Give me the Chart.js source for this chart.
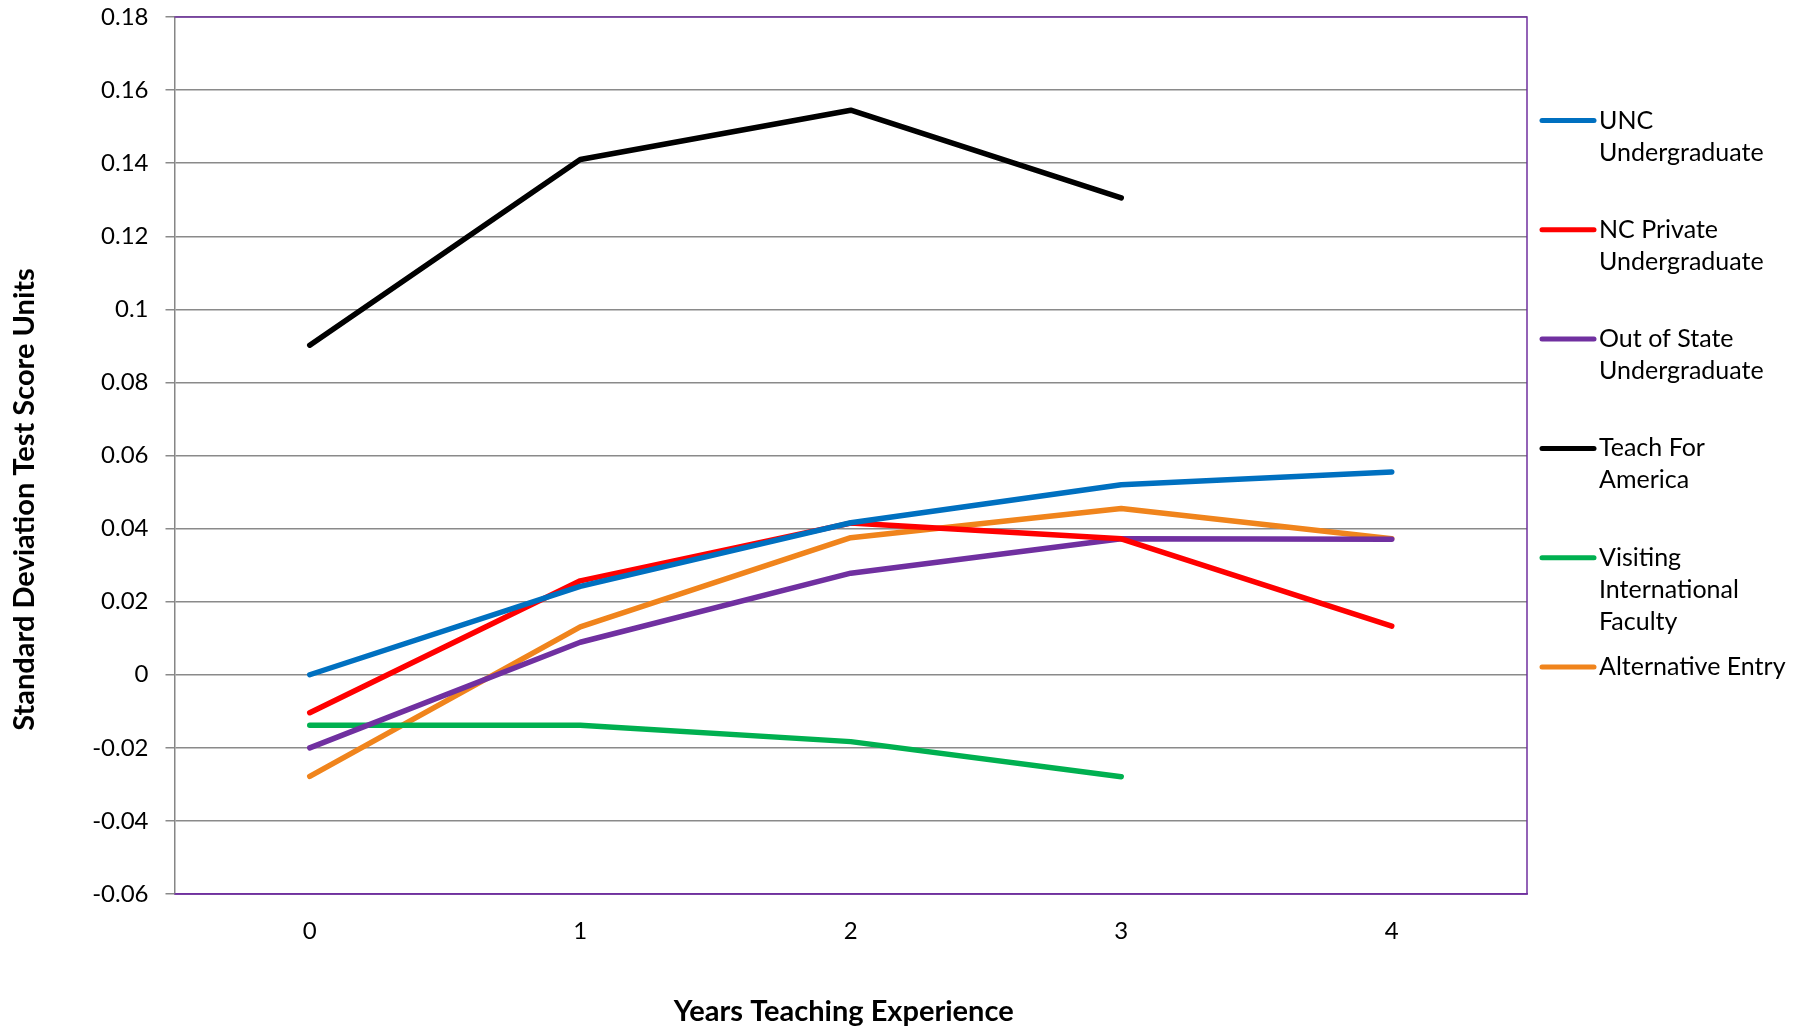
<!DOCTYPE html>
<html>
<head>
<meta charset="utf-8">
<script src="https://cdn.jsdelivr.net/npm/chart.js@4/dist/chart.umd.min.js"></script>
<style>
  html, body { margin: 0; padding: 0; background: #fff; }
  #wrap { width: 1800px; height: 1030px; position: relative; }
</style>
</head>
<body>
<div id="wrap"><canvas id="chart" width="1800" height="1030"></canvas></div>
<script>
// Years of teaching experience on the category axis
const years = ['0', '1', '2', '3', '4'];

// Legend labels, already split into the lines they are shown on
const seriesLabels = [
  ['UNC', 'Undergraduate'],
  ['NC Private', 'Undergraduate'],
  ['Out of State', 'Undergraduate'],
  ['Teach For', 'America'],
  ['Visiting', 'International', 'Faculty'],
  ['Alternative Entry']
];

// Axis titles
const xTitle = 'Years Teaching Experience';
const yTitle = 'Standard Deviation Test Score Units';

// Effect estimates in standard deviation units, one value per year
const uncUndergrad     = [0.0000, 0.0242, 0.0416, 0.0520, 0.0555];
const ncPrivate        = [-0.0104, 0.0257, 0.0415, 0.0372, 0.0133];
const outOfState       = [-0.0200, 0.0089, 0.0278, 0.0372, 0.0371];
const teachForAmerica  = [0.0902, 0.1410, 0.1545, 0.1305, null];
const visitingIntl     = [-0.0138, -0.0138, -0.0183, -0.0279, null];
const alternativeEntry = [-0.0278, 0.0131, 0.0375, 0.0455, 0.0372];

// Value axis range and spacing
const yMin = -0.06;
const yMax = 0.18;
const yStep = 0.02;

const seriesValues = [uncUndergrad, ncPrivate, outOfState, teachForAmerica, visitingIntl, alternativeEntry];
const seriesColors = ['#0070C0', '#FF0000', '#7030A0', '#000000', '#00B050', '#F0841C'];

const FONT = "Lato, 'Open Sans', 'Liberation Sans', sans-serif";

// Purple frame on the top, right and bottom of the plot area
const framePlugin = {
  id: 'plotFrame',
  beforeDatasetsDraw(chart) {
    const { ctx, chartArea: a } = chart;
    ctx.save();
    ctx.strokeStyle = '#7030A0';
    ctx.lineWidth = 1.5;
    ctx.beginPath();
    ctx.moveTo(a.left, a.top);
    ctx.lineTo(a.right, a.top);
    ctx.lineTo(a.right, a.bottom);
    ctx.lineTo(a.left, a.bottom);
    ctx.stroke();
    ctx.restore();
  }
};

// Axis titles: the value-axis title sits a little below the plot's middle
const axisTitlePlugin = {
  id: 'axisTitles',
  afterDraw(chart) {
    const { ctx, chartArea: a, width, height } = chart;
    ctx.save();
    ctx.fillStyle = '#000';
    ctx.font = 'bold 29px ' + FONT;
    ctx.textAlign = 'center';
    ctx.textBaseline = 'middle';
    ctx.fillText(xTitle, (a.left + a.right) / 2 - 7, height - 18);
    ctx.translate(25, (a.top + a.bottom) / 2 + 44);
    ctx.rotate(-Math.PI / 2);
    ctx.fillText(yTitle, 0, 0);
    ctx.restore();
  }
};

// Legend to the right of the plot with wrapped labels
const sideLegendPlugin = {
  id: 'sideLegend',
  afterDraw(chart) {
    const { ctx, chartArea: a } = chart;
    const x0 = a.right + 15;
    const x1 = a.right + 67;
    const tx = a.right + 72;
    const firstY = a.top + 103.5;
    const itemGap = 109.3;
    const lineGap = 32;
    ctx.save();
    ctx.font = '25px ' + FONT;
    ctx.textBaseline = 'middle';
    ctx.textAlign = 'left';
    chart.data.datasets.forEach((ds, i) => {
      const y = firstY + i * itemGap;
      ctx.strokeStyle = ds.borderColor;
      ctx.lineWidth = 5;
      ctx.lineCap = 'round';
      ctx.beginPath();
      ctx.moveTo(x0, y);
      ctx.lineTo(x1, y);
      ctx.stroke();
      ctx.fillStyle = '#000';
      seriesLabels[i].forEach((line, k) => ctx.fillText(line, tx, y + k * lineGap));
    });
    ctx.restore();
  }
};

new Chart(document.getElementById('chart'), {
  type: 'line',
  data: {
    labels: years,
    datasets: seriesValues.map((vals, i) => ({
      label: seriesLabels[i].join(' '),
      data: vals,
      borderColor: seriesColors[i],
      backgroundColor: seriesColors[i],
      borderWidth: 5.5,
      borderCapStyle: 'round',
      borderJoinStyle: 'round',
      pointRadius: 0,
      tension: 0,
      spanGaps: false
    }))
  },
  options: {
    responsive: false,
    animation: false,
    layout: { padding: { left: 0, top: 17, right: 273, bottom: 0 } },
    plugins: {
      legend: { display: false },
      tooltip: { enabled: false }
    },
    scales: {
      x: {
        type: 'category',
        offset: true,
        grid: { display: false, drawTicks: false },
        border: { display: true, color: '#7030A0', width: 1.5 },
        ticks: {
          color: '#000',
          font: { family: FONT, size: 24 },
          padding: 23,
          maxRotation: 0
        },
        title: { display: false },
        afterFit(scale) { scale.height = 136; }
      },
      y: {
        min: yMin,
        max: yMax,
        grid: {
          color: '#8a8a8a',
          lineWidth: 1.5,
          drawTicks: true,
          tickLength: 9,
          tickColor: '#8a8a8a'
        },
        border: { display: true, color: '#868686', width: 1.5 },
        ticks: {
          stepSize: yStep,
          color: '#000',
          font: { family: FONT, size: 24 },
          padding: 17,
          callback: (v) => String(+Number(v).toFixed(2))
        },
        title: { display: false },
        afterFit(scale) {
          scale.width = 174.5;
          scale.paddingTop = 0;
          scale.paddingBottom = 0;
        }
      }
    }
  },
  plugins: [framePlugin, axisTitlePlugin, sideLegendPlugin]
});
</script>
</body>
</html>
